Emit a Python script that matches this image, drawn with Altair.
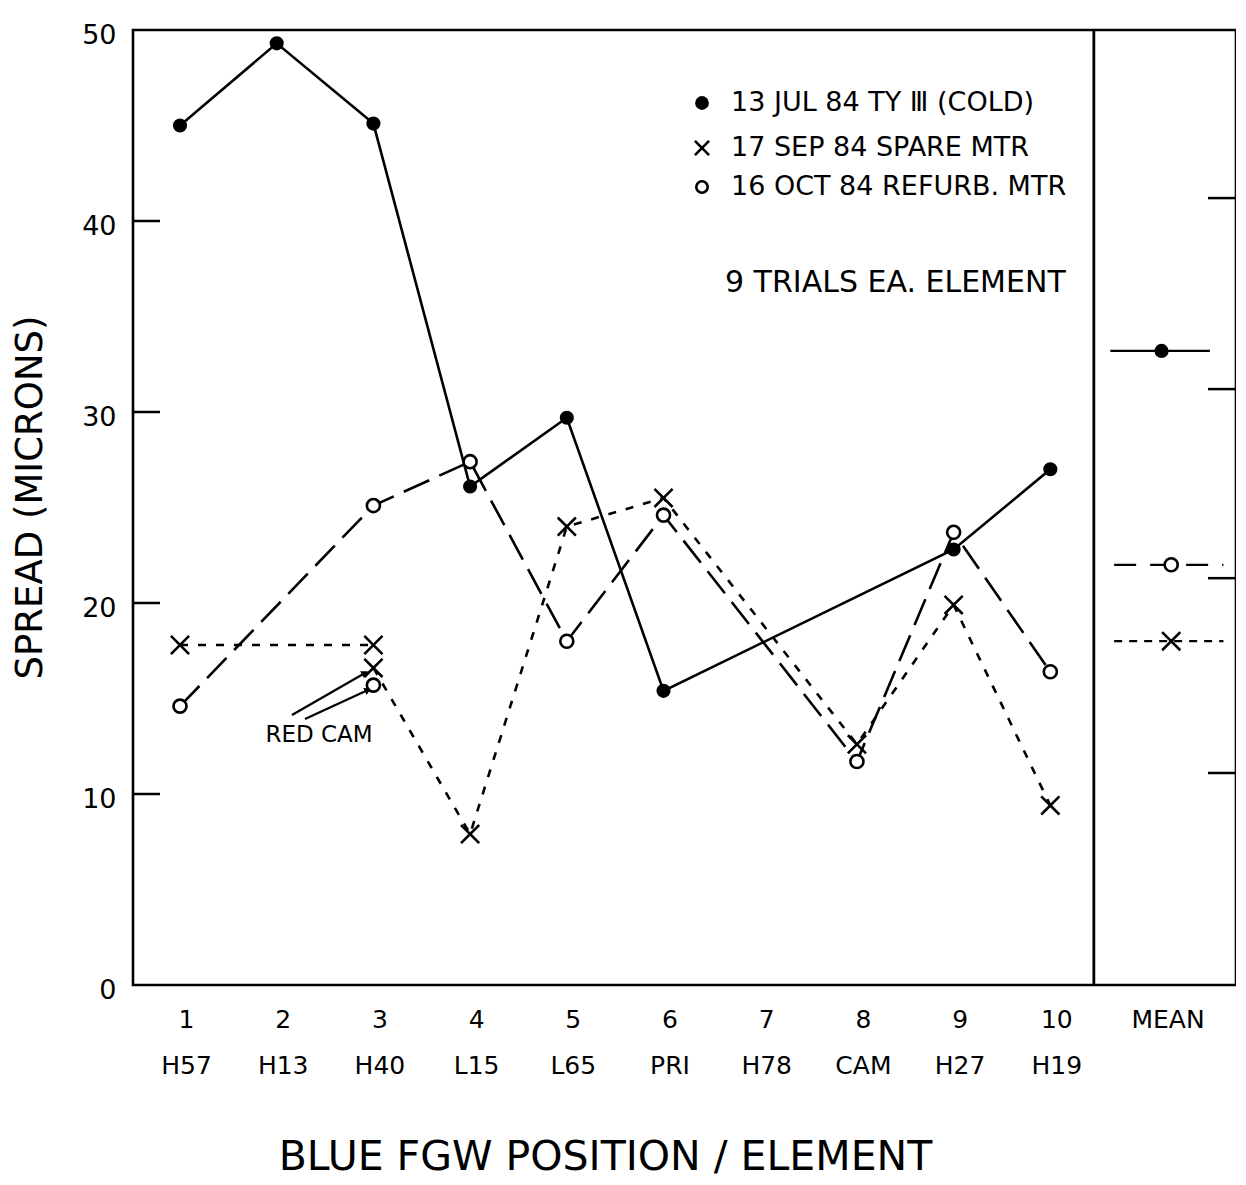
import altair as alt
import pandas as pd

FONT = "DejaVu Sans"

# ---------------- data ----------------
POSITIONS = [1, 2, 3, 4, 5, 6, 7, 8, 9, 10]
ELEMENTS = ["H57", "H13", "H40", "L15", "L65", "PRI", "H78", "CAM", "H27", "H19"]
MEAN_LABEL = "MEAN"

JUL_POS = [1, 2, 3, 4, 5, 6, 9, 10]
JUL_VAL = [45.0, 49.3, 45.1, 26.1, 29.7, 15.4, 22.8, 27.0]

SEP_POS = [1, 3, 4, 5, 6, 8, 9, 10]
SEP_VAL = [17.8, 17.8, 7.9, 24.0, 25.5, 12.6, 19.9, 9.4]

OCT_POS = [1, 3, 4, 5, 6, 8, 9, 10]
OCT_VAL = [14.6, 25.1, 27.4, 18.0, 24.6, 11.7, 23.7, 16.4]

REDCAM_POS = 3
SEP_REDCAM = 16.6
OCT_REDCAM = 15.7

MEAN_JUL = 33.2
MEAN_OCT = 22.0
MEAN_SEP = 18.0

LEGEND_LABELS = ["13 JUL 84  TY \u2162 (COLD)", "17 SEP 84  SPARE MTR", "16 OCT 84  REFURB. MTR"]
NOTE = "9 TRIALS EA. ELEMENT"
REDCAM_LABEL = "RED CAM"
Y_TICKS = [0, 10, 20, 30, 40, 50]
LEFT_TICKS = [10, 20, 30, 40]
RIGHT_TICKS = [41.2, 31.2, 21.3, 11.1]
X_TITLE = "BLUE FGW POSITION / ELEMENT"
Y_TITLE = "SPREAD  (MICRONS)"

# ---------------- layout ----------------
W, H = 1103, 955
XDOM = [0.514, 11.92]
YDOM = [0, 50]
MEAN_X = 11.15
SEP_X = 10.45

xs = alt.Scale(domain=XDOM, nice=False, zero=False)
ys = alt.Scale(domain=YDOM, nice=False, zero=True)

X_PATH = "M-1,-1L1,1M-1,1L1,-1"

codes_js = "[" + ",".join("'" + c + "'" for c in ELEMENTS) + "]"
label_expr = ("datum.value > 10.5 ? '" + MEAN_LABEL + "' : ['' + datum.value, "
              + codes_js + "[datum.value - 1]]")

x_axis = alt.Axis(
    values=POSITIONS + [MEAN_X], labelExpr=label_expr, tickSize=0, domain=False,
    grid=False, labelFont=FONT, labelFontSize=25, labelPadding=22, labelLineHeight=46,
    labelBaseline="top", labelOffset=6, labelFlush=False, labelOverlap=False,
    labelColor="black", title=X_TITLE, titleFont=FONT, titleFontSize=41,
    titleFontWeight="normal", titleColor="black", titleX=472, titleY=172,
    titleAlign="center", titleBaseline="middle", titleAnchor="start",
)
y_axis = alt.Axis(
    values=Y_TICKS, tickSize=0, domain=False, grid=False, labelFont=FONT,
    labelFontSize=27, labelPadding=17, labelOffset=5, labelColor="black",
    labelFlush=False, labelOverlap=False,
    title=Y_TITLE, titleFont=FONT, titleFontSize=37, titleFontWeight="normal",
    titleColor="black", titleAngle=270, titleX=-103, titleY=467,
    titleAlign="center", titleBaseline="middle", titleAnchor="start",
)

jul = pd.DataFrame({"x": JUL_POS, "y": JUL_VAL, "i": range(len(JUL_POS))})
octo = pd.DataFrame({"x": OCT_POS, "y": OCT_VAL, "i": range(len(OCT_POS))})
sep_pts = pd.DataFrame({"x": SEP_POS + [REDCAM_POS], "y": SEP_VAL + [SEP_REDCAM]})
sep_line = pd.DataFrame({
    "x": SEP_POS[:2] + [REDCAM_POS] + SEP_POS[2:],
    "y": SEP_VAL[:2] + [SEP_REDCAM] + SEP_VAL[2:],
    "seg": ["a", "a"] + ["b"] * (1 + len(SEP_POS[2:])),
    "i": range(len(SEP_POS) + 1),
})
oct_pts = pd.DataFrame({"x": OCT_POS + [REDCAM_POS], "y": OCT_VAL + [OCT_REDCAM]})


def X(field="x"):
    return alt.X(field + ":Q", scale=xs, axis=x_axis)


def Y(field="y"):
    return alt.Y(field + ":Q", scale=ys, axis=y_axis)


def XD(val):
    return alt.X(datum=val, type="quantitative", scale=xs, axis=x_axis)


one = pd.DataFrame({"k": [0]})

# series lines
jul_line = alt.Chart(jul).mark_line(color="black", strokeWidth=2.6).encode(
    x=X(), y=Y(), order="i:Q")
oct_line = alt.Chart(octo).mark_line(color="black", strokeWidth=2.6, strokeDash=[28, 11]).encode(
    x=X(), y=Y(), order="i:Q")
sep_l = alt.Chart(sep_line).mark_line(color="black", strokeWidth=2.6, strokeDash=[8, 10]).encode(
    x=X(), y=Y(), detail="seg:N", order="i:Q")

# series markers
jul_pts = alt.Chart(jul).mark_point(shape="circle", filled=True, color="black", size=200, opacity=1).encode(
    x=X(), y=Y())
oct_p = alt.Chart(oct_pts).mark_point(shape="circle", filled=True, fill="white", stroke="black",
                                      strokeWidth=2.6, size=170, opacity=1).encode(x=X(), y=Y())
sep_p = alt.Chart(sep_pts).mark_point(shape=X_PATH, filled=False, stroke="black", strokeWidth=2.6,
                                      size=330, opacity=1).encode(x=X(), y=Y())

# frame details
left_ticks = alt.Chart(pd.DataFrame({"y": LEFT_TICKS})).mark_rule(color="black", strokeWidth=2.5).encode(
    y=Y(), x=alt.value(0), x2=alt.value(27))
right_ticks = alt.Chart(pd.DataFrame({"y": RIGHT_TICKS})).mark_rule(color="black", strokeWidth=2.5).encode(
    y=Y(), x=alt.value(W - 28), x2=alt.value(W))
separator = alt.Chart(one).mark_rule(color="black", strokeWidth=2.8).encode(
    x=XD(SEP_X), y=alt.value(0), y2=alt.value(H))


# mean panel
def mean_rule(val, x1, x2, dash=None):
    kw = dict(color="black", strokeWidth=2.2)
    if dash:
        kw["strokeDash"] = dash
    return alt.Chart(pd.DataFrame({"y": [val]})).mark_rule(**kw).encode(
        y=Y(), x=XD(x1), x2=alt.X2(datum=x2))


m_jul_line = mean_rule(MEAN_JUL, 10.62, 11.65)
m_oct_line = mean_rule(MEAN_OCT, 10.66, 11.79, [22, 14])
m_sep_line = mean_rule(MEAN_SEP, 10.66, 11.79, [8, 7])
m_jul = alt.Chart(pd.DataFrame({"x": [MEAN_X], "y": [MEAN_JUL]})).mark_point(
    shape="circle", filled=True, color="black", size=200, opacity=1).encode(x=X(), y=Y())
m_oct = alt.Chart(pd.DataFrame({"x": [MEAN_X + 0.1], "y": [MEAN_OCT]})).mark_point(
    shape="circle", filled=True, fill="white", stroke="black", strokeWidth=2.6, size=170,
    opacity=1).encode(x=X(), y=Y())
m_sep = alt.Chart(pd.DataFrame({"x": [MEAN_X + 0.1], "y": [MEAN_SEP]})).mark_point(
    shape=X_PATH, filled=False, stroke="black", strokeWidth=2.6, size=330, opacity=1).encode(
    x=X(), y=Y())

# legend (hand-drawn key inside the plot)
LEG_MX, LEG_TX = 569, 598
LEG_Y = [73, 118, 157]
legend_layers = [
    alt.Chart(one).mark_point(shape="circle", filled=True, color="black", size=190,
                              opacity=1).encode(x=alt.value(LEG_MX), y=alt.value(LEG_Y[0])),
    alt.Chart(one).mark_point(shape=X_PATH, filled=False, stroke="black", strokeWidth=2.6,
                              size=200, opacity=1).encode(x=alt.value(LEG_MX), y=alt.value(LEG_Y[1])),
    alt.Chart(one).mark_point(shape="circle", filled=False, stroke="black", strokeWidth=2.6,
                              size=130, opacity=1).encode(x=alt.value(LEG_MX), y=alt.value(LEG_Y[2])),
]
for lab, yy in zip(LEGEND_LABELS, LEG_Y):
    legend_layers.append(alt.Chart(pd.DataFrame({"t": [lab]})).mark_text(
        align="left", baseline="middle", font=FONT, fontSize=27, color="black").encode(
        x=alt.value(LEG_TX), y=alt.value(yy), text="t:N"))
legend_layers.append(alt.Chart(pd.DataFrame({"t": [NOTE]})).mark_text(
    align="left", baseline="middle", font=FONT, fontSize=30, color="black").encode(
    x=alt.value(592), y=alt.value(253), text="t:N"))

# RED CAM annotation
redcam_text = alt.Chart(pd.DataFrame({"t": [REDCAM_LABEL]})).mark_text(
    align="center", baseline="middle", font=FONT, fontSize=23, color="black").encode(
    x=alt.value(186), y=alt.value(705), text="t:N")
arrow1 = alt.Chart(one).mark_rule(color="black", strokeWidth=2.2).encode(
    x=alt.value(159), y=alt.value(685), x2=alt.value(232), y2=alt.value(643))
arrow2 = alt.Chart(one).mark_rule(color="black", strokeWidth=2.2).encode(
    x=alt.value(172), y=alt.value(689), x2=alt.value(235), y2=alt.value(660))
head1 = alt.Chart(one).mark_point(shape="triangle-up", filled=True, color="black", size=60, angle=60,
                                  opacity=1).encode(x=alt.value(232), y=alt.value(643))
head2 = alt.Chart(one).mark_point(shape="triangle-up", filled=True, color="black", size=60, angle=65,
                                  opacity=1).encode(x=alt.value(235), y=alt.value(660))

chart = alt.layer(
    jul_line, left_ticks, right_ticks, separator,
    oct_line, sep_l,
    m_jul_line, m_oct_line, m_sep_line,
    arrow1, arrow2, head1, head2, redcam_text,
    jul_pts, sep_p, oct_p, m_jul, m_oct, m_sep,
    *legend_layers,
).properties(
    width=W, height=H,
    autosize=alt.AutoSizeParams(type="none"),
    padding={"left": 125, "top": 22, "right": 0, "bottom": 196},
    background="white",
).configure_view(stroke="black", strokeWidth=2.6)

chart.save("out.html", embed_options={"renderer": "svg", "actions": False})
